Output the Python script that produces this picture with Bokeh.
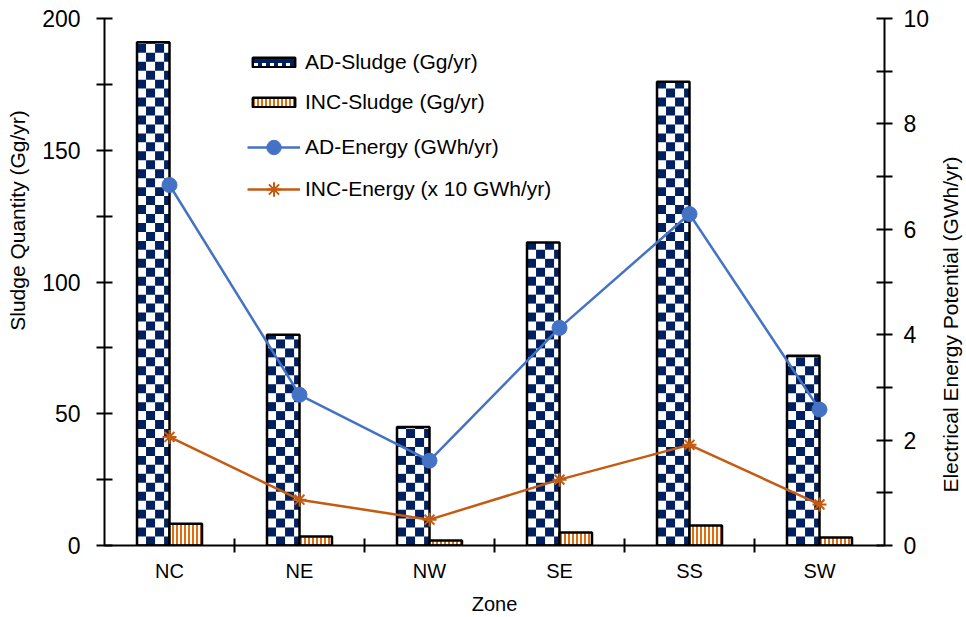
import math

from bokeh.plotting import figure
from bokeh.layouts import row
from bokeh.models import (ColumnDataSource, Range1d, LinearAxis, FixedTicker,
                          Legend, LegendItem, Label)
from bokeh.embed import file_html
from bokeh.resources import INLINE

# Sludge quantity and energy potential per zone
zones = ["NC", "NE", "NW", "SE", "SS", "SW"]
ad_sludge = [191, 80, 45, 115, 176, 72]          # Gg/yr
inc_sludge = [8.3, 3.4, 1.9, 4.9, 7.6, 3.0]      # Gg/yr
ad_energy = [6.84, 2.86, 1.61, 4.13, 6.29, 2.58]  # GWh/yr
inc_energy = [2.06, 0.87, 0.49, 1.25, 1.91, 0.78]  # x 10 GWh/yr

sludge_ticks = [0, 50, 100, 150, 200]
sludge_minor = [25, 75, 125, 175]
energy_ticks = [0, 2, 4, 6, 8, 10]
energy_minor = [1, 3, 5, 7, 9]

FONT = "Liberation Sans"
NAVY = "#002060"
BLUE = "#4472C4"
ORANGE = "#C55A11"
STRIPE = "#E36C0A"
BAR_W = 0.25
CELL_X = BAR_W / 3.6   # checker cell width (x units)
CELL_Y = 3.4           # checker cell height (sludge units)

H = 617
STRIP_L, STRIP_R = 34, 34   # side strips that carry the vertical titles
W_MAIN = 966 - STRIP_L - STRIP_R

idx = list(range(len(zones)))
x_ad = [i - BAR_W / 2 for i in idx]
x_inc = [i + BAR_W / 2 for i in idx]
src = ColumnDataSource(dict(
    x=idx, x_ad=x_ad, x_inc=x_inc,
    ad_s=ad_sludge, inc_s=inc_sludge, ad_e=ad_energy, inc_e=inc_energy,
))

# navy squares of the checkerboard fill inside each AD bar
cells = dict(left=[], right=[], bottom=[], top=[])
for xc, h in zip(x_ad, ad_sludge):
    x0, x1 = xc - BAR_W / 2, xc + BAR_W / 2
    r = 0
    while r * CELL_Y < h:
        c = 0
        while x0 + c * CELL_X < x1 - 1e-9:
            if (r + c) % 2 == 1:
                cells["left"].append(x0 + c * CELL_X)
                cells["right"].append(min(x0 + (c + 1) * CELL_X, x1))
                cells["bottom"].append(r * CELL_Y)
                cells["top"].append(min((r + 1) * CELL_Y, h))
            c += 1
        r += 1
cell_src = ColumnDataSource(cells)

p = figure(width=W_MAIN, height=H, output_backend="svg", toolbar_location=None,
           x_range=Range1d(-0.5, len(zones) - 0.5),
           y_range=Range1d(sludge_ticks[0], sludge_ticks[-1]),
           min_border_left=104 - STRIP_L, min_border_right=48,
           min_border_top=18, min_border_bottom=71)
p.extra_y_ranges = {"energy": Range1d(energy_ticks[0], energy_ticks[-1])}
p.grid.visible = False
p.outline_line_color = None
p.background_fill_color = "white"
p.border_fill_color = "white"

# AD bars: white base, navy checker squares, black outline on top
p.vbar(x="x_ad", top="ad_s", width=BAR_W, source=src,
       fill_color="white", line_color=None)
p.quad(left="left", right="right", bottom="bottom", top="top", source=cell_src,
       fill_color=NAVY, line_color=None)
p.vbar(x="x_ad", top="ad_s", width=BAR_W, source=src,
       fill_color=None, line_color="black", line_width=2.5)
# hidden copy of the AD bars that supplies the legend swatch
ad_key = p.vbar(x="x_ad", top="ad_s", width=BAR_W, source=src, visible=False,
                fill_color="white", line_color="black", line_width=2.5,
                hatch_pattern="cross", hatch_color=NAVY,
                hatch_scale=8, hatch_weight=4)

r_inc = p.vbar(x="x_inc", top="inc_s", width=BAR_W, source=src,
               fill_color="white", line_color="black", line_width=2.5,
               hatch_pattern="vertical_line", hatch_color=STRIPE,
               hatch_scale=4, hatch_weight=2)

l_ad = p.line("x", "ad_e", source=src, y_range_name="energy",
              line_color=BLUE, line_width=2.5)
s_ad = p.scatter("x", "ad_e", source=src, y_range_name="energy",
                 marker="circle", size=15, fill_color=BLUE, line_color=BLUE)
l_inc = p.line("x", "inc_e", source=src, y_range_name="energy",
               line_color=ORANGE, line_width=2.5)
s_inc = p.scatter("x", "inc_e", source=src, y_range_name="energy",
                  marker="asterisk", size=14, line_color=ORANGE, line_width=2)


def style_axis(ax, label_size):
    ax.axis_line_color = "black"
    ax.axis_line_width = 2
    ax.major_tick_line_color = "black"
    ax.major_tick_line_width = 2
    ax.minor_tick_line_color = "black"
    ax.minor_tick_line_width = 2
    ax.major_label_text_font = FONT
    ax.major_label_text_color = "black"
    ax.major_label_text_font_size = label_size
    ax.axis_label_text_font = FONT
    ax.axis_label_text_font_style = "normal"
    ax.axis_label_text_color = "black"
    ax.axis_label_text_font_size = "20px"


# left axis: sludge quantity
ly = p.yaxis[0]
style_axis(ly, "23px")
ly.ticker = FixedTicker(ticks=sludge_ticks, minor_ticks=sludge_minor)
ly.major_tick_in = ly.major_tick_out = 8
ly.minor_tick_in = ly.minor_tick_out = 8
ly.major_label_standoff = 16

# right axis: energy potential
ry = LinearAxis(y_range_name="energy",
                ticker=FixedTicker(ticks=energy_ticks, minor_ticks=energy_minor))
style_axis(ry, "23px")
ry.major_tick_in = ry.major_tick_out = 8
ry.minor_tick_in = ry.minor_tick_out = 8
ry.major_label_standoff = 11
p.add_layout(ry, "right")

# bottom axis: zones, tick marks between categories
bx = p.xaxis[0]
style_axis(bx, "20px")
bx.ticker = FixedTicker(ticks=idx, minor_ticks=[i + 0.5 for i in idx[:-1]])
bx.major_tick_in = bx.major_tick_out = 0
bx.minor_tick_in = bx.minor_tick_out = 7
bx.major_label_overrides = {i: z for i, z in enumerate(zones)}
bx.major_label_standoff = 7
bx.axis_label = "Zone"
bx.axis_label_standoff = 8

legend_style = dict(padding=0, margin=0, glyph_width=53, label_standoff=5,
                    label_text_font=FONT, label_text_font_size="21px",
                    label_text_color="black", background_fill_alpha=0,
                    border_line_color=None, inactive_fill_alpha=0)
bar_legend = Legend(items=[
    LegendItem(label="AD-Sludge (Gg/yr)", renderers=[ad_key]),
    LegendItem(label="INC-Sludge (Gg/yr)", renderers=[r_inc]),
], location=(143, 431), spacing=16, glyph_height=12, **legend_style)
line_legend = Legend(items=[
    LegendItem(label="AD-Energy (GWh/yr)", renderers=[l_ad, s_ad]),
    LegendItem(label="INC-Energy (x 10 GWh/yr)", renderers=[l_inc, s_inc]),
], location=(143, 338), spacing=6, glyph_height=36, **legend_style)
p.add_layout(bar_legend)
p.add_layout(line_legend)


def title_strip(width, text, sx, sy):
    """Narrow blank panel holding one vertical axis title.

    The row lines its frame up with the main plot's frame, so sy is
    measured up from the x-axis line.
    """
    s = figure(width=width, height=H, output_backend="svg", toolbar_location=None,
               x_axis_type=None, y_axis_type=None, min_border=0,
               x_range=Range1d(0, 1), y_range=Range1d(0, 1))
    s.grid.visible = False
    s.outline_line_color = None
    s.border_fill_color = "white"
    s.add_layout(Label(x=sx, y=sy, x_units="screen", y_units="screen",
                       text=text, angle=math.pi / 2,
                       text_align="center", text_baseline="middle",
                       text_font=FONT, text_font_size="21px", text_color="black"))
    return s


left_strip = title_strip(STRIP_L, "Sludge Quantity (Gg/yr)", 17, 325)
right_strip = title_strip(STRIP_R, "Electrical Energy Potential (GWh/yr)", 18, 221)

layout = row(left_strip, p, right_strip, spacing=0)
open("out.html", "w").write(file_html(layout, INLINE))
